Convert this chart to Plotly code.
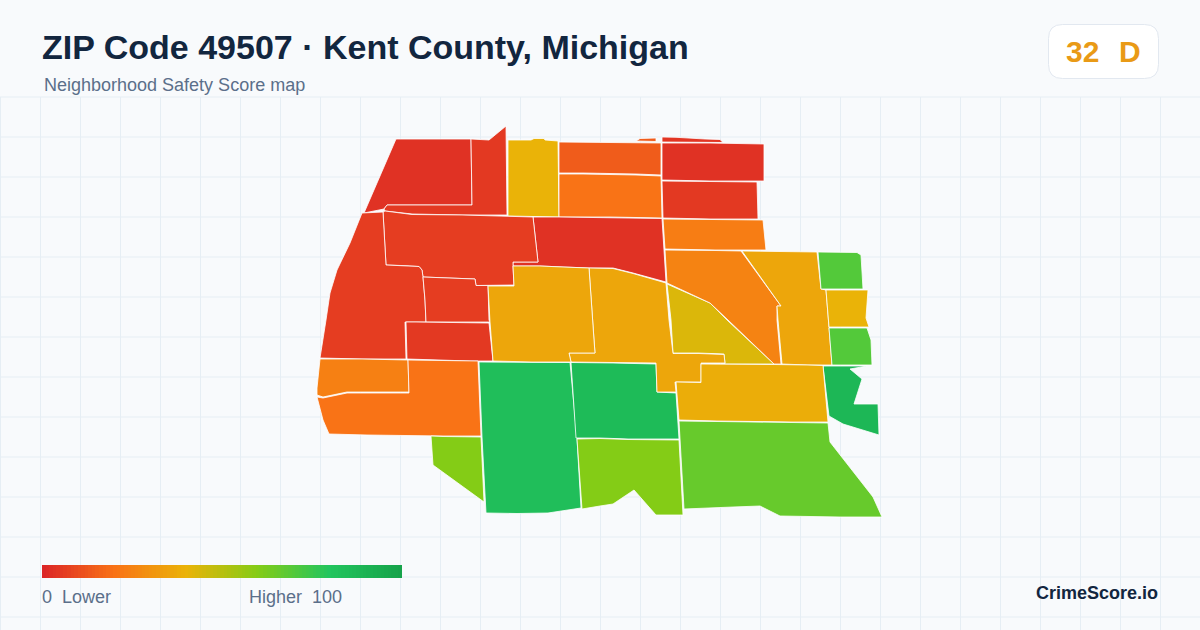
import plotly.graph_objects as go
from plotly.colors import sample_colorscale

# score scale used by the map and the legend bar
scale_stops = [0, 0.2, 0.4, 0.6, 0.8, 1]
scale_colors = ['#dc2626', '#f97316', '#eab308', '#84cc16', '#22c55e', '#16a34a']
legend_values = list(range(0, 101))

# tract outlines, traced in picture coordinates
nw_block = [(396, 139), (471, 139), (472, 205), (430, 205), (387, 205), (384, 209), (364, 213)]
north_strip = [(471, 139), (489, 140), (506, 126), (507, 215), (462, 215), (412, 214), (385, 211), (384, 209), (387, 205), (430, 205), (472, 205)]
north_yellow = [(508, 140), (531, 140), (534, 138.5), (544, 138.5), (545, 140), (558, 141), (559, 217), (508, 216)]
north_mid = [(559, 142), (622, 142.5), (661, 143), (661, 175), (636, 174), (583, 173), (559, 173)]
north_orange = [(559, 174), (583, 174), (636, 175), (661, 176), (662, 218), (610, 217), (559, 217)]
sliver_orange = [(636, 141), (640, 138.5), (656, 138), (656, 141.5)]
sliver_red = [(662, 137), (676, 137.3), (705, 139), (720, 139.5), (723, 142.5), (662, 142)]
ne_top = [(662, 143), (710, 143), (764, 144), (764, 181), (710, 181), (662, 180)]
ne_second = [(662, 181), (710, 181.5), (757, 182), (757.5, 200), (758, 219), (710, 219), (663, 218)]
ne_orange = [(663, 219), (710, 219.5), (763, 220), (766, 250), (715, 250), (665, 249)]
center_red = [(533, 217), (559, 217), (662, 218.5), (662.5, 227), (666, 282), (633, 273), (613, 268), (600, 268), (589, 268), (563, 267), (540, 266), (513, 266), (513, 262), (538, 262)]
west_wide = [(385, 211), (412, 214.5), (462, 215), (533, 217), (538, 262), (513, 262), (513, 266), (514, 285), (476, 285.5), (475, 279), (448, 278), (423, 277), (422, 270), (419, 266.5), (401, 265.5), (386, 265), (383, 212)]
west_large = [(362, 213), (383, 212), (386, 265), (401, 265.5), (419, 266.5), (422, 270), (423, 277), (425, 300), (426, 322), (405, 322), (406, 359), (362, 359), (320, 358), (326, 320), (330, 293), (337, 270), (350, 243)]
west_small = [(423, 277), (448, 278), (475, 279), (476, 285.5), (488, 285.5), (489, 320), (490, 322), (426, 322), (425, 300)]
west_lower = [(406, 322), (416, 322), (489, 323), (493, 361), (470, 361), (428, 360), (408, 359.5), (407, 359)]
sw_orange_top = [(320, 359), (362, 359), (408, 360), (409, 392), (347, 392), (323, 397), (317, 395), (317, 388)]
sw_orange = [(408, 360), (428, 360.5), (470, 361), (478, 361), (481, 436), (443, 436), (367, 435), (329, 434), (323, 420), (317, 397), (323, 398), (347, 393), (409, 393)]
sw_lime = [(431, 436), (443, 436.5), (481, 437), (484, 502), (433, 465)]
south_green_west = [(479, 362), (532, 362.5), (570, 362.5), (577, 438), (581, 508), (548, 513), (517, 513.5), (486, 513), (482, 437)]
south_green_east = [(571, 362.5), (600, 362.5), (613, 363), (656, 364), (657, 392), (676, 393), (679, 439), (628, 439), (600, 438), (576, 438)]
south_lime = [(577, 439), (600, 438.5), (628, 439.5), (679, 440), (683, 515), (656, 515), (634, 490), (613, 504), (600, 506), (582, 509)]
olive_wedge = [(667, 284), (710, 303), (727, 320), (774, 364), (725, 364), (724, 354), (698, 353), (673, 353), (671, 320)]
center_east = [(589, 268), (600, 268.5), (613, 268.5), (633, 273.5), (666, 283), (669, 320), (673, 353.5), (699, 353.5), (724, 354.5), (725, 363), (701, 363), (701, 382), (675, 382), (676, 392), (657, 392), (656, 363), (613, 362.5), (571, 362), (569, 353), (595, 353), (594, 340)]
center_west = [(488, 286), (514, 286), (513, 266), (540, 266), (563, 267), (589, 268), (594, 340), (595, 353), (569, 353), (571, 362), (532, 362), (493, 361), (490, 322), (489, 300)]
east_orange = [(665, 250), (702, 250), (716, 250.5), (741, 251), (781, 306), (777, 306), (777, 320), (781, 364), (774, 364), (728, 320), (710, 303), (667, 283)]
east_yellow = [(742, 251), (793, 251.5), (817, 252), (821, 289), (826, 290), (829, 327), (832, 365), (807, 365), (782, 364), (778, 320), (777, 306), (781, 306)]
far_east_top = [(818, 252), (857, 252.5), (861, 255), (863, 289), (821, 289)]
far_east_yellow = [(826, 290), (868, 290), (866, 318), (869, 327), (829, 327)]
far_east_green = [(829, 328), (867, 328), (871, 340), (872, 365), (832, 365)]
far_east_dark = [(823, 366), (867, 366), (850, 369), (862, 379), (854, 404), (878, 404), (879, 435), (843, 424), (829, 416)]
se_yellow = [(701, 364), (725, 364), (774, 364.5), (807, 365), (823, 365.5), (828, 422), (792, 422), (717, 421), (679, 420), (676, 382), (701, 382.5)]
se_lime = [(679, 421), (717, 421.5), (792, 422.5), (828, 423), (830, 442), (873, 497), (882, 517), (840, 517), (780, 516), (760, 506), (733, 507), (684, 509)]

tracts = [nw_block, north_strip, north_yellow, north_mid, north_orange, sliver_orange, sliver_red,
          ne_top, ne_second, ne_orange, center_red, west_wide, west_large, west_small, west_lower,
          sw_orange_top, sw_orange, sw_lime, south_green_west, south_green_east, south_lime,
          olive_wedge, center_east, center_west, east_orange, east_yellow, far_east_top,
          far_east_yellow, far_east_green, far_east_dark, se_yellow, se_lime]
tract_scores = [3, 5, 40, 14, 20, 14, 4,
                3, 5, 23, 3, 6, 6, 6, 5,
                24, 20, 60, 84, 86, 60,
                43, 36, 36, 25, 36, 70,
                40, 70, 88, 38, 66]

grid_x = list(range(0, 1201, 40))
grid_y = list(range(97, 630, 40))

colorscale = [[s, c] for s, c in zip(scale_stops, scale_colors)]

fig = go.Figure()

for x in grid_x:
    fig.add_shape(type='line', x0=x + 0.5, x1=x + 0.5, y0=97, y1=630, layer='below',
                  line=dict(color='#e6eef4', width=1))
for y in grid_y:
    fig.add_shape(type='line', x0=0, x1=1200, y0=y, y1=y, layer='below',
                  line=dict(color='#e6eef4', width=1))

for tract, score in zip(tracts, tract_scores):
    fill = sample_colorscale(colorscale, score / 100)[0]
    fig.add_trace(go.Scatter(
        x=[p[0] for p in tract] + [tract[0][0]],
        y=[p[1] for p in tract] + [tract[0][1]],
        mode='lines',
        fill='toself',
        fillcolor=fill,
        line=dict(color='#ffffff', width=0.8),
        hoverinfo='skip',
        showlegend=False
    ))

# legend bar
fig.add_trace(go.Heatmap(
    z=[legend_values, legend_values],
    x0=43.78,
    dx=360 / 101,
    y=[568.25, 574.75],
    colorscale=colorscale,
    zmin=0,
    zmax=100,
    showscale=False,
    hoverinfo='skip'
))

# score badge
fig.add_shape(
    type='path',
    path='M 1062.5 24.5 H 1144.5 Q 1158.5 24.5 1158.5 38.5 V 64.5 Q 1158.5 78.5 1144.5 78.5 '
         'H 1062.5 Q 1048.5 78.5 1048.5 64.5 V 38.5 Q 1048.5 24.5 1062.5 24.5 Z',
    fillcolor='#ffffff',
    line=dict(color='#e2e8f0', width=1),
    layer='below'
)

font = 'Liberation Sans, Arial, sans-serif'
labels = [
    ('ZIP Code 49507 · Kent County, Michigan', 40, 47, 'left', 34, '#12263f', True),
    ('Neighborhood Safety Score map', 42, 85, 'left', 18, '#5b6f8a', False),
    ('32', 1082, 51, 'center', 30, '#e99a16', True),
    ('D', 1130, 51, 'center', 30, '#e99a16', True),
    ('0\u00a0\u00a0Lower', 40, 597, 'left', 18, '#5b6f8a', False),
    ('Higher\u00a0\u00a0100', 344, 597, 'right', 18, '#5b6f8a', False),
    ('CrimeScore.io', 1160, 593, 'right', 18, '#12263f', True),
]
for text, x, y, align, size, color, bold in labels:
    fig.add_annotation(
        x=x, y=y, xref='x', yref='y',
        text=f'<b>{text}</b>' if bold else text,
        showarrow=False,
        xanchor=align,
        yanchor='middle',
        font=dict(family=font, size=size, color=color)
    )

fig.update_layout(
    width=1200,
    height=630,
    margin=dict(l=0, r=0, t=0, b=0),
    plot_bgcolor='#f8fafc',
    paper_bgcolor='#f8fafc',
    showlegend=False,
    xaxis=dict(range=[0, 1200], visible=False, fixedrange=True),
    yaxis=dict(range=[630, 0], visible=False, fixedrange=True)
)

fig.write_html("out.html", config={'displayModeBar': False},
               post_script="document.body.style.margin='0';document.body.style.overflow='hidden';")
